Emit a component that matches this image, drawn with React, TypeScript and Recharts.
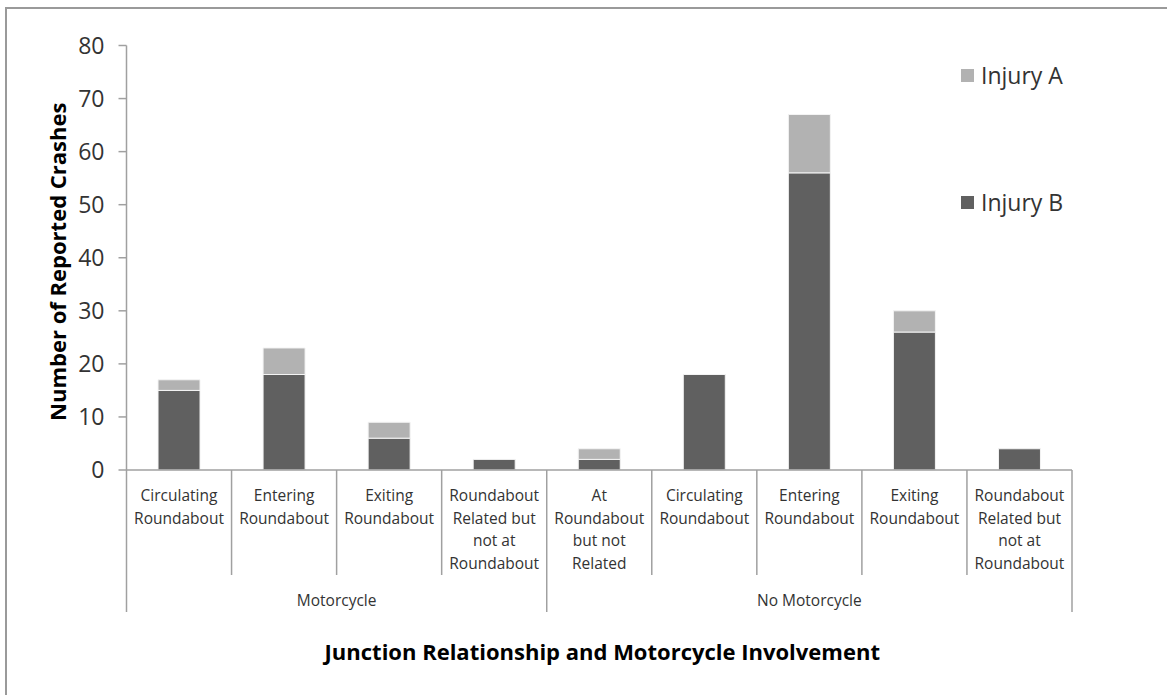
import React from "react"
import { Bar, BarChart, XAxis, YAxis } from "recharts"

const categoryLabels = [
  "Circulating\nRoundabout",
  "Entering\nRoundabout",
  "Exiting\nRoundabout",
  "Roundabout\nRelated but\nnot at\nRoundabout",
  "At\nRoundabout\nbut not\nRelated",
  "Circulating\nRoundabout",
  "Entering\nRoundabout",
  "Exiting\nRoundabout",
  "Roundabout\nRelated but\nnot at\nRoundabout",
]
const groupNames = ["Motorcycle", "No Motorcycle"]
const groupSizes = [4, 5]
const injuryB = [15, 18, 6, 2, 2, 18, 56, 26, 4]
const injuryA = [2, 5, 3, 0, 2, 0, 11, 4, 0]
const yTicks = [0, 10, 20, 30, 40, 50, 60, 70, 80]

const W = 1167
const H = 695
const MARGIN = { top: 45.5, right: 95, bottom: 65, left: 46.5 }
const Y_AXIS_W = 80
const X_AXIS_H = 160
const BAND = (W - MARGIN.left - Y_AXIS_W - MARGIN.right) / categoryLabels.length

const FONT = "'Open Sans', sans-serif"
const AXIS_GREY = "#a0a0a0"
const COLOR_A = "#b2b2b2"
const COLOR_B = "#606060"

const data = categoryLabels.map((label, i) => ({
  key: String(i),
  label,
  injuryB: injuryB[i],
  injuryA: injuryA[i],
}))

// first index of each group
const groupStarts = groupSizes.map((_, g) =>
  groupSizes.slice(0, g).reduce((a, b) => a + b, 0)
)

function CategoryTick(props: any) {
  const { x, y, payload } = props
  const i = Number(payload.value)
  const lines = categoryLabels[i].split("\n")
  const left = x - BAND / 2
  const right = x + BAND / 2
  const g = groupStarts.indexOf(i)
  const isLast = i === categoryLabels.length - 1
  return (
    <g>
      <line
        x1={left}
        x2={left}
        y1={y}
        y2={y + (g >= 0 ? 142 : 105)}
        stroke={AXIS_GREY}
        strokeWidth={1.5}
      />
      {isLast && (
        <line x1={right} x2={right} y1={y} y2={y + 142} stroke={AXIS_GREY} strokeWidth={1.5} />
      )}
      {lines.map((ln, k) => (
        <text
          key={k}
          x={x}
          y={y + 25 + k * 22.7}
          textAnchor="middle"
          dominantBaseline="central"
          fontFamily={FONT}
          fontSize={15.5}
          fill="#333"
        >
          {ln}
        </text>
      ))}
      {g >= 0 && (
        <text
          x={left + (groupSizes[g] * BAND) / 2}
          y={y + 130}
          textAnchor="middle"
          dominantBaseline="central"
          fontFamily={FONT}
          fontSize={15.5}
          fill="#333"
        >
          {groupNames[g]}
        </text>
      )}
    </g>
  )
}

function LegendBox() {
  const items = [
    { name: "Injury A", color: COLOR_A },
    { name: "Injury B", color: COLOR_B },
  ]
  return (
    <div style={{ position: "absolute", left: 961, top: 60, fontFamily: FONT }}>
      {items.map((it, k) => (
        <div
          key={it.name}
          style={{
            display: "flex",
            alignItems: "center",
            height: 30,
            marginBottom: k === 0 ? 97 : 0,
          }}
        >
          <span
            style={{
              width: 13,
              height: 13,
              background: it.color,
              display: "inline-block",
              marginRight: 7,
            }}
          />
          <span style={{ fontSize: 23, color: "#333" }}>{it.name}</span>
        </div>
      ))}
    </div>
  )
}

export default function App() {
  return (
    <div
      style={{
        position: "absolute",
        left: 0,
        top: 0,
        width: W,
        height: H,
        overflow: "hidden",
        background: "#fff",
      }}
    >
      <div
        style={{
          position: "absolute",
          left: 5,
          top: 7,
          width: 1300,
          height: 900,
          border: "2px solid #9a9a9a",
        }}
      />
      <div style={{ position: "absolute", left: 0, top: 0 }}>
        <BarChart width={W} height={H} data={data} margin={MARGIN} barCategoryGap="30%">
          <XAxis
            dataKey="key"
            height={X_AXIS_H}
            interval={0}
            tickLine={false}
            tickSize={0}
            tickMargin={0}
            axisLine={{ stroke: AXIS_GREY, strokeWidth: 1.5 }}
            tick={<CategoryTick />}
            label={{
              content: (p: any) => (
                <text
                  x={p.viewBox.x + p.viewBox.width / 2 + 3}
                  y={p.viewBox.y + 181}
                  textAnchor="middle"
                  dominantBaseline="central"
                  fontFamily={FONT}
                  fontSize={22}
                  fontWeight="bold"
                  fill="#000"
                >
                  Junction Relationship and Motorcycle Involvement
                </text>
              ),
            }}
          />
          <YAxis
            width={Y_AXIS_W}
            domain={[0, 80]}
            ticks={yTicks}
            interval={0}
            tickSize={8}
            tickMargin={14}
            axisLine={{ stroke: AXIS_GREY, strokeWidth: 1.5 }}
            tickLine={{ stroke: AXIS_GREY, strokeWidth: 1.5 }}
            tick={{ fontFamily: FONT, fontSize: 23, fill: "#333" }}
            label={{
              content: (p: any) => {
                const cx = p.viewBox.x + 10
                const cy = p.viewBox.y + p.viewBox.height / 2 + 4
                return (
                  <text
                    x={cx}
                    y={cy}
                    transform={`rotate(-90 ${cx} ${cy})`}
                    textAnchor="middle"
                    dominantBaseline="central"
                    fontFamily={FONT}
                    fontSize={22}
                    fontWeight="bold"
                    fill="#000"
                  >
                    Number of Reported Crashes
                  </text>
                )
              },
            }}
          />
          <Bar
            dataKey="injuryB"
            name="Injury B"
            stackId="s"
            fill={COLOR_B}
            stroke="#f4f4f4"
            strokeWidth={1}
            isAnimationActive={false}
          />
          <Bar
            dataKey="injuryA"
            name="Injury A"
            stackId="s"
            fill={COLOR_A}
            stroke="#f4f4f4"
            strokeWidth={1}
            isAnimationActive={false}
          />
        </BarChart>
      </div>
      <LegendBox />
    </div>
  )
}
